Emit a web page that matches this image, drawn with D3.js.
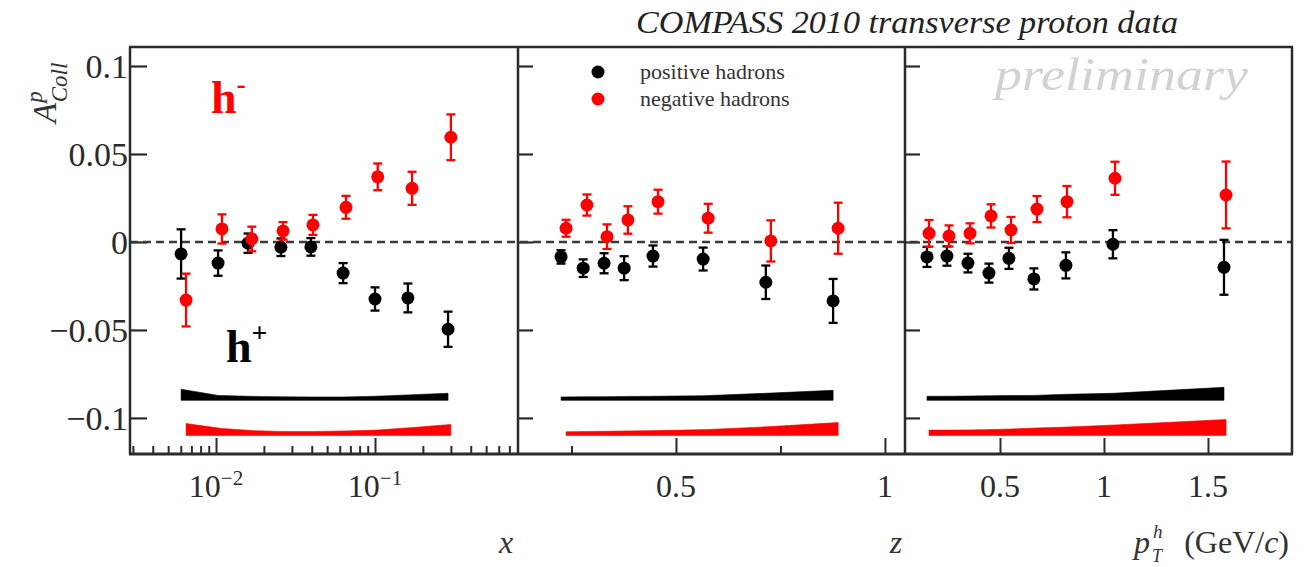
<!DOCTYPE html>
<html>
<head>
<meta charset="utf-8">
<script src="https://cdn.jsdelivr.net/npm/d3@7"></script>
<style>
  body { margin: 0; background: #fff; }
  svg text { font-family: "Liberation Serif", "DejaVu Serif", serif; }
</style>
</head>
<body>
<div id="chart"></div>
<script>
// ---- values ----
// panel 1 : Bjorken x
const xPos = [0.00603, 0.0103, 0.0159, 0.0256, 0.0395, 0.063, 0.1, 0.161, 0.288];
const xPosA = [-0.0068, -0.012, -0.0007, -0.003, -0.0028, -0.0177, -0.0324, -0.0318, -0.0496];
const xPosErr = [0.014, 0.0072, 0.0055, 0.005, 0.005, 0.0057, 0.0066, 0.0082, 0.01];
const xPosSys = [0.0063, 0.0028, 0.0023, 0.002, 0.0019, 0.0019, 0.0023, 0.0031, 0.004];
const xNeg = [0.00648, 0.0109, 0.0168, 0.0264, 0.0407, 0.0657, 0.104, 0.171, 0.3];
const xNegA = [-0.033, 0.0074, 0.0017, 0.0063, 0.0097, 0.0197, 0.037, 0.0305, 0.0595];
const xNegErr = [0.015, 0.0083, 0.007, 0.005, 0.0057, 0.0065, 0.0076, 0.0094, 0.013];
const xNegSys = [0.0068, 0.004, 0.0028, 0.0023, 0.0023, 0.0026, 0.0031, 0.0045, 0.0063];

// panel 2 : z
const zPos = [0.225, 0.278, 0.328, 0.376, 0.445, 0.565, 0.715, 0.876];
const zPosA = [-0.0085, -0.0149, -0.0121, -0.0149, -0.008, -0.0097, -0.0229, -0.0335];
const zPosErr = [0.0038, 0.005, 0.0057, 0.0068, 0.006, 0.0065, 0.0095, 0.0125];
const zPosSys = [0.0019, 0.002, 0.002, 0.0022, 0.0023, 0.0026, 0.004, 0.0057];
const zNeg = [0.237, 0.287, 0.335, 0.385, 0.457, 0.577, 0.727, 0.888];
const zNegA = [0.0078, 0.021, 0.003, 0.0125, 0.0229, 0.0135, 0.0006, 0.0078];
const zNegErr = [0.0048, 0.006, 0.007, 0.0078, 0.0068, 0.0082, 0.0117, 0.0145];
const zNegSys = [0.0021, 0.0023, 0.0024, 0.0026, 0.0028, 0.0034, 0.0051, 0.0074];

// panel 3 : pT
const ptPos = [0.149, 0.245, 0.346, 0.447, 0.543, 0.663, 0.817, 1.043, 1.577];
const ptPosA = [-0.0085, -0.008, -0.012, -0.0177, -0.0093, -0.021, -0.0133, -0.0013, -0.0144];
const ptPosErr = [0.0057, 0.0055, 0.0053, 0.0054, 0.006, 0.006, 0.0074, 0.008, 0.0156];
const ptPosSys = [0.0023, 0.0023, 0.0024, 0.0026, 0.0027, 0.0028, 0.0034, 0.004, 0.0074];
const ptNeg = [0.159, 0.255, 0.356, 0.457, 0.553, 0.678, 0.822, 1.053, 1.587];
const ptNegA = [0.0049, 0.0034, 0.0049, 0.0148, 0.0068, 0.0187, 0.0229, 0.0362, 0.0267];
const ptNegErr = [0.0076, 0.006, 0.0057, 0.0066, 0.0074, 0.0074, 0.0089, 0.0094, 0.019];
const ptNegSys = [0.0031, 0.0031, 0.0032, 0.0034, 0.0037, 0.0043, 0.0048, 0.006, 0.0091];

// baselines of the systematic bands
const posBandBase = -0.09;
const negBandBase = -0.11;

// ticks
const yTicks = [0.1, 0.05, 0, -0.05, -0.1];
const xMajorTicks = [0.01, 0.1];
const xMajorLabels = ["−2", "−1"];
const xMinorTicks = [0.003, 0.004, 0.005, 0.006, 0.007, 0.008, 0.009,
  0.02, 0.03, 0.04, 0.05, 0.06, 0.07, 0.08, 0.09, 0.2, 0.3, 0.4, 0.5, 0.6, 0.7];
const zMajorTicks = [0.5, 1];
const zMinorTicks = [0.25, 0.75];
const ptMajorTicks = [0.5, 1, 1.5];

// ---- layout ----
const W = 1305, H = 567;
const plotTop = 47, plotBottom = 454;
const serif = '"Liberation Serif", "DejaVu Serif", serif';
const posColor = "#000", negColor = "#ff0000", axisColor = "#2b2b2b";

let svg = d3.select("#chart").append("svg").attr("width", W).attr("height", H)
  .attr("font-family", serif);

let y = d3.scaleLinear().domain([-0.1205, 0.1108]).range([plotBottom, plotTop]);

let panels = [
  {
    left: 130, right: 518,
    x: d3.scaleLog().domain([0.002877, 0.7931]).range([130, 518]),
    pos: { x: xPos, a: xPosA, e: xPosErr, s: xPosSys },
    neg: { x: xNeg, a: xNegA, e: xNegErr, s: xNegSys },
    major: xMajorTicks, minor: xMinorTicks
  },
  {
    left: 518, right: 905,
    x: d3.scaleLinear().domain([0.122, 1.048]).range([518, 905]),
    pos: { x: zPos, a: zPosA, e: zPosErr, s: zPosSys },
    neg: { x: zNeg, a: zNegA, e: zNegErr, s: zNegSys },
    major: zMajorTicks, minor: zMinorTicks
  },
  {
    left: 905, right: 1292,
    x: d3.scaleLinear().domain([0.0433, 1.904]).range([905, 1292]),
    pos: { x: ptPos, a: ptPosA, e: ptPosErr, s: ptPosSys },
    neg: { x: ptNeg, a: ptNegA, e: ptNegErr, s: ptNegSys },
    major: ptMajorTicks, minor: []
  }
];

function rows(ser) {
  return ser.x.map((v, i) => ({ x: v, a: ser.a[i], e: ser.e[i], s: ser.s[i] }));
}

panels.forEach((p, pi) => {
  let g = svg.append("g");

  // systematic bands
  [[p.pos, posBandBase, posColor], [p.neg, negBandBase, negColor]].forEach(([ser, base, col]) => {
    let area = d3.area()
      .x((d) => p.x(d.x))
      .y0(y(base))
      .y1((d) => y(base + d.s));
    g.append("path").datum(rows(ser)).attr("d", area).attr("fill", col).attr("stroke", col).attr("stroke-width", 0.6);
  });

  // y ticks on the left edge, pointing inside
  let yAxis = d3.axisLeft(y).tickValues(yTicks).tickSize(pi === 0 ? -17 : -15).tickPadding(2)
    .tickFormat(pi === 0 ? d3.format("~g") : "");
  let ya = g.append("g").attr("transform", `translate(${p.left},0)`).call(yAxis).attr("font-family", serif);
  ya.select(".domain").remove();
  ya.selectAll("line").attr("stroke", axisColor).attr("stroke-width", 2.2);
  ya.selectAll("text").attr("font-size", 34).attr("fill", axisColor).attr("dy", "0.34em");

  // x ticks, pointing up
  let xMinor = g.append("g").attr("transform", `translate(0,${plotBottom})`)
    .call(d3.axisBottom(p.x).tickValues(p.minor).tickSize(-8).tickFormat(""));
  let xMajor = g.append("g").attr("transform", `translate(0,${plotBottom})`)
    .call(d3.axisBottom(p.x).tickValues(p.major).tickSize(-16).tickFormat(""));
  [xMinor, xMajor].forEach((a) => {
    a.select(".domain").remove();
    a.selectAll("line").attr("stroke", axisColor).attr("stroke-width", 2);
  });

  // x tick labels
  p.major.forEach((v, i) => {
    let t = g.append("text").attr("x", p.x(v)).attr("y", 497)
      .attr("text-anchor", "middle").attr("font-size", 32).attr("fill", axisColor);
    if (pi === 0) {
      t.append("tspan").text("10");
      t.append("tspan").attr("font-size", 21).attr("dy", -12).text(xMajorLabels[i]);
    } else {
      t.text(d3.format("~g")(v));
    }
  });
});

// zero line
svg.append("line")
  .attr("x1", 130).attr("x2", 1292).attr("y1", y(0)).attr("y2", y(0))
  .attr("stroke", "#3a3a3a").attr("stroke-width", 2.4).attr("stroke-dasharray", "8,5");

// data points on top
panels.forEach((p) => {
  let g = svg.append("g");
  [[p.pos, posColor], [p.neg, negColor]].forEach(([ser, col]) => {
    let data = rows(ser);
    let pts = g.append("g");
    pts.selectAll(".bar").data(data).enter().append("line")
      .attr("x1", (d) => p.x(d.x)).attr("x2", (d) => p.x(d.x))
      .attr("y1", (d) => y(d.a - d.e)).attr("y2", (d) => y(d.a + d.e))
      .attr("stroke", col).attr("stroke-width", 2.3);
    [-1, 1].forEach((sgn) => {
      pts.selectAll(".cap" + sgn).data(data).enter().append("line")
        .attr("x1", (d) => p.x(d.x) - 4.5).attr("x2", (d) => p.x(d.x) + 4.5)
        .attr("y1", (d) => y(d.a + sgn * d.e)).attr("y2", (d) => y(d.a + sgn * d.e))
        .attr("stroke", col).attr("stroke-width", 2.3);
    });
    pts.selectAll("circle").data(data).enter().append("circle")
      .attr("cx", (d) => p.x(d.x)).attr("cy", (d) => y(d.a))
      .attr("r", 6.5).attr("fill", col);
  });
});

// frame
let frame = svg.append("g").attr("stroke", axisColor).attr("fill", "none");
frame.append("line").attr("x1", 129).attr("x2", 1293).attr("y1", plotTop).attr("y2", plotTop).attr("stroke-width", 2.5);
[130, 518, 905, 1292].forEach((xx) => {
  frame.append("line").attr("x1", xx).attr("x2", xx).attr("y1", plotTop).attr("y2", plotBottom).attr("stroke-width", 2.5);
});
frame.append("line").attr("x1", 129).attr("x2", 1293).attr("y1", plotBottom).attr("y2", plotBottom).attr("stroke-width", 3.2);

// title
svg.append("text").attr("x", 636).attr("y", 33).attr("font-size", 31).attr("font-style", "italic")
  .attr("fill", "#222").attr("textLength", 542).attr("lengthAdjust", "spacingAndGlyphs")
  .text("COMPASS 2010 transverse proton data");

// preliminary watermark
svg.append("text").attr("x", 995).attr("y", 90).attr("font-size", 46).attr("font-style", "italic")
  .attr("fill", "#d2d2d2").attr("textLength", 253).attr("lengthAdjust", "spacingAndGlyphs")
  .text("preliminary");

// legend
let legend = [["positive hadrons", posColor], ["negative hadrons", negColor]];
legend.forEach(([name, col], i) => {
  svg.append("circle").attr("cx", 598).attr("cy", 72 + i * 27).attr("r", 6.5).attr("fill", col);
  svg.append("text").attr("x", 640).attr("y", 79 + i * 27).attr("font-size", 22).attr("fill", "#333").text(name);
});

// h- / h+ labels
let hm = svg.append("text").attr("x", 211).attr("y", 113).attr("font-size", 46).attr("font-weight", "bold").attr("fill", negColor);
hm.append("tspan").text("h");
hm.append("tspan").attr("font-size", 28).attr("dy", -20).text("-");
let hp = svg.append("text").attr("x", 226).attr("y", 362).attr("font-size", 46).attr("font-weight", "bold").attr("fill", posColor);
hp.append("tspan").text("h");
hp.append("tspan").attr("font-size", 28).attr("dy", -20).text("+");

// y axis title
let yt = svg.append("text").attr("transform", "translate(56,123) rotate(-90)")
  .attr("font-size", 33).attr("font-style", "italic").attr("fill", "#333");
yt.append("tspan").text("A");
yt.append("tspan").attr("font-size", 23).attr("dy", -14).text("p");
yt.append("tspan").attr("font-size", 23).attr("dx", -11).attr("dy", 25).text("Coll");

// x axis titles
svg.append("text").attr("x", 506).attr("y", 553).attr("text-anchor", "middle").attr("font-size", 32)
  .attr("font-style", "italic").attr("fill", "#333").text("x");
svg.append("text").attr("x", 896).attr("y", 553).attr("text-anchor", "middle").attr("font-size", 32)
  .attr("font-style", "italic").attr("fill", "#333").text("z");
svg.append("text").attr("x", 1134).attr("y", 553).attr("font-size", 32).attr("font-style", "italic").attr("fill", "#333").text("p");
svg.append("text").attr("x", 1153).attr("y", 538).attr("font-size", 19).attr("font-style", "italic").attr("fill", "#333").text("h");
svg.append("text").attr("x", 1152).attr("y", 562).attr("font-size", 18).attr("font-style", "italic").attr("fill", "#333").text("T");
let unit = svg.append("text").attr("x", 1289).attr("y", 553).attr("text-anchor", "end").attr("font-size", 32).attr("fill", "#333");
unit.append("tspan").text("(GeV/");
unit.append("tspan").attr("font-style", "italic").text("c");
unit.append("tspan").text(")");
</script>
</body>
</html>
